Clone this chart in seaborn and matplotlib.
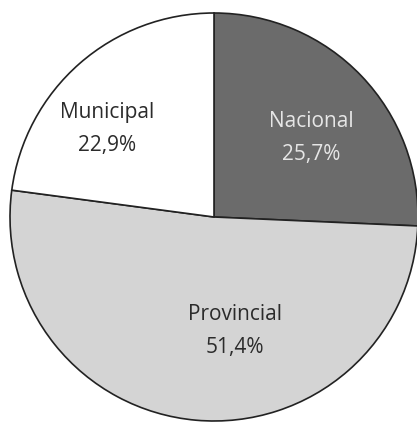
import matplotlib
matplotlib.use("Agg")
import matplotlib.pyplot as plt
import seaborn as sns

categories = ["Nacional", "Provincial", "Municipal"]
shares = [25.7, 51.4, 22.9]
value_labels = ["25,7%", "51,4%", "22,9%"]

sns.set_theme(style="white")
plt.rcParams['font.family'] = ['Open Sans', 'DejaVu Sans']

colors = ["#6b6b6b", "#d4d4d4", "#ffffff"]
text_colors = ["#e6e6e6", "#2b2b2b", "#2b2b2b"]
label_pos = [(0.475, 0.387), (0.103, -0.559), (-0.525, 0.431)]

fig = plt.figure(figsize=(4.17, 4.22), dpi=100)
ax = fig.add_axes([0, 0, 1, 1])
wedges, texts = ax.pie(shares, colors=colors, startangle=90, counterclock=False,
                       radius=1.0,
                       wedgeprops=dict(edgecolor="#222222", linewidth=1.2))
for cat, lab, pos, tc in zip(categories, value_labels, label_pos, text_colors):
    ax.text(pos[0], pos[1], f"{cat}\n{lab}", ha="center", va="center",
            fontsize=15, color=tc, linespacing=1.8)
ax.set_xlim(-214/204, (417-214)/204)
ax.set_ylim(-(422-217)/204, 217/204)
ax.set_aspect("auto")
ax.axis("off")
fig.savefig("out.png", dpi=100, facecolor="white")
